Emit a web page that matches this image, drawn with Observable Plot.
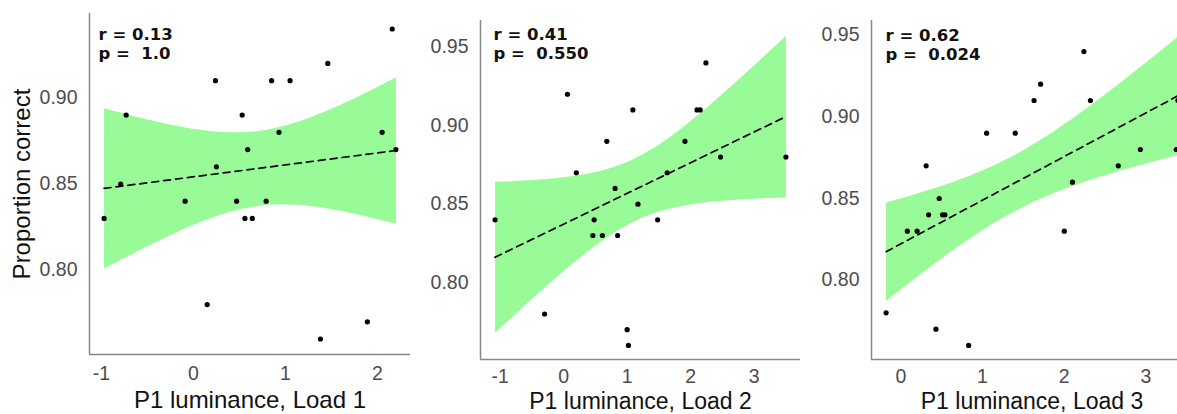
<!DOCTYPE html>
<html>
<head>
<meta charset="utf-8">
<script src="https://cdn.jsdelivr.net/npm/d3@7"></script>
<script src="https://cdn.jsdelivr.net/npm/@observablehq/plot@0.6"></script>
<style>
  html, body { margin: 0; padding: 0; background: #fff; overflow: hidden; }
  #wrap { position: relative; width: 1177px; height: 414px; overflow: hidden; background: #fff; }
  #wrap > svg { position: absolute; top: 0; }
</style>
</head>
<body>
<div id="wrap"></div>
<script>
// ---- Data ----
const load1X = [-0.97,-0.79,-0.73,-0.09,0.15,0.24,0.25,0.47,0.53,0.56,0.59,0.64,0.79,0.85,0.93,1.05,1.38,1.46,1.89,2.05,2.16,2.20];
const load1Y = [0.83,0.85,0.89,0.84,0.78,0.91,0.86,0.84,0.89,0.83,0.87,0.83,0.84,0.91,0.88,0.91,0.76,0.92,0.77,0.88,0.94,0.87];

const load2X = [-1.08,-0.30,0.06,0.20,0.46,0.48,0.61,0.68,0.81,0.85,1.00,1.02,1.09,1.17,1.48,1.63,1.91,2.10,2.15,2.24,2.47,3.50];
const load2Y = [0.84,0.78,0.92,0.87,0.83,0.84,0.83,0.89,0.86,0.83,0.77,0.76,0.91,0.85,0.84,0.87,0.89,0.91,0.91,0.94,0.88,0.88];

const load3X = [-0.18,0.08,0.20,0.31,0.34,0.43,0.47,0.51,0.54,0.83,1.05,1.40,1.63,1.71,2.00,2.10,2.24,2.32,2.66,2.93,3.37,3.39];
const load3Y = [0.78,0.83,0.83,0.87,0.84,0.77,0.85,0.84,0.84,0.76,0.89,0.89,0.91,0.92,0.83,0.86,0.94,0.91,0.87,0.88,0.88,0.91];

const xTitles = ["P1 luminance, Load 1", "P1 luminance, Load 2", "P1 luminance, Load 3"];
const yTitle = "Proportion correct";
const statLabels = ["r = 0.13\np =  1.0", "r = 0.41\np =  0.550", "r = 0.62\np =  0.024"];
const xTicks = [[-1, 0, 1, 2], [-1, 0, 1, 2, 3], [0, 1, 2, 3]];
const yTicks = [[0.80, 0.85, 0.90], [0.80, 0.85, 0.90, 0.95], [0.80, 0.85, 0.90, 0.95]];
const yDomains = [[0.751, 0.949], [0.751, 0.967], [0.7514, 0.959]];

// ---- Layout (pixels) ----
const layout = [
  {left: 0,   ml: 89, mr: 4, mt: 13, mb: 60, fw: 321, xPad: 12, titleSize: 24, titleDy: 45.5, annDx: 9,  annDy: 13.2, yTitle: true},
  {left: 414, ml: 66, mr: 4, mt: 20, mb: 55, fw: 320, xPad: 10, titleSize: 23, titleDy: 42.6, annDx: 13, annDy: 6.4,  yTitle: false},
  {left: 804, ml: 67, mr: 6, mt: 20, mb: 55, fw: 321, xPad: 10, titleSize: 23, titleDy: 42.6, annDx: 14, annDy: 6.8,  yTitle: false}
];

function expand(vals) {
  const [lo, hi] = d3.extent(vals);
  const pad = (hi - lo) * 0.05;
  return [lo - pad, hi + pad];
}

const fontMain = "Liberation Sans, Arial, sans-serif";
const panels = [[load1X, load1Y], [load2X, load2Y], [load3X, load3Y]];
const wrap = document.getElementById("wrap");

panels.forEach(([xs, ys], i) => {
  const L = layout[i];
  const data = xs.map((x, j) => ({x, y: ys[j]}));
  const xDom = expand(xs);
  const yDom = yDomains[i];
  const marks = [
    Plot.linearRegressionY(data, {
      x: "x", y: "y", ci: 0.95,
      fill: "#98fb98", fillOpacity: 1,
      stroke: "black", strokeWidth: 1.7, strokeDasharray: "7,5"
    }),
    Plot.dot(data, {x: "x", y: "y", r: 2.6, fill: "black", strokeWidth: 0}),
    Plot.ruleX([xDom[0]], {stroke: "#888", strokeWidth: 1.5}),
    Plot.ruleY([yDom[0]], {stroke: "#888", strokeWidth: 1.5}),
    Plot.axisX(xTicks[i], {
      tickSize: 0, tickPadding: L.xPad, fontSize: 19.5, fill: "#4d4d4d",
      fontFamily: fontMain, label: null, tickFormat: d => String(d)
    }),
    Plot.axisY(yTicks[i], {
      tickSize: 0, tickPadding: 12, fontSize: 19.5, fill: "#4d4d4d",
      fontFamily: fontMain, label: null, tickFormat: d3.format(".2f")
    }),
    Plot.text([xTitles[i]], {
      frameAnchor: "bottom", textAnchor: "middle", lineAnchor: "middle",
      dy: L.titleDy, fontSize: L.titleSize, fill: "#111", fontFamily: fontMain
    }),
    Plot.text([statLabels[i]], {
      frameAnchor: "top-left", textAnchor: "start", lineAnchor: "top",
      dx: L.annDx, dy: L.annDy, fontSize: 16.5, fontWeight: "bold",
      lineHeight: 1.15, fill: "#111", fontFamily: "DejaVu Sans, sans-serif"
    })
  ];
  if (L.yTitle) {
    marks.push(Plot.text([yTitle], {
      frameAnchor: "left", textAnchor: "middle", lineAnchor: "middle",
      rotate: -90, dx: -67.4, fontSize: 24, fill: "#111", fontFamily: fontMain
    }));
  }
  const chart = Plot.plot({
    width: L.ml + L.fw + L.mr,
    height: 414,
    marginLeft: L.ml, marginRight: L.mr, marginTop: L.mt, marginBottom: L.mb,
    style: {
      fontFamily: fontMain, fontSize: "19.5px", color: "#4d4d4d",
      background: "transparent", overflow: "visible", maxWidth: "none"
    },
    x: {domain: xDom},
    y: {domain: yDom},
    marks
  });
  chart.style.left = L.left + "px";
  wrap.appendChild(chart);
});
</script>
</body>
</html>
